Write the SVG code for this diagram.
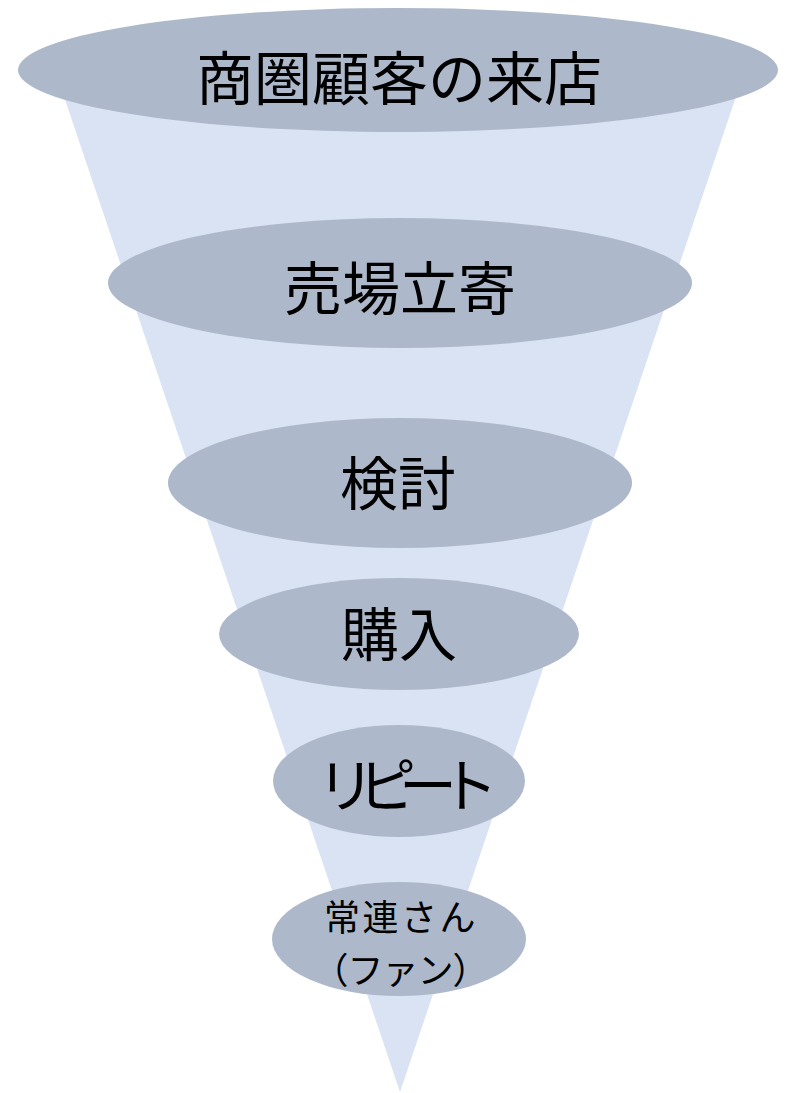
<svg xmlns="http://www.w3.org/2000/svg" width="792" height="1093" viewBox="0 0 792 1093">
<style>
.funnel{fill:#DAE3F3;}
.stage{fill:#ADB9CA;}
.lbl{font-family:"Noto Sans CJK JP","Noto Sans CJK SC",sans-serif;fill:#000;text-anchor:middle;}
.big{font-size:58px;}
.small{font-size:36px;}
</style>
<rect width="792" height="1093" fill="#FFFFFF"/>
<g id="funnel"><polygon class="funnel" points="55,70 745,70 400,1092"/></g>
<g id="stage1"><ellipse class="stage" cx="398" cy="70" rx="380" ry="62"/><text class="lbl big" x="399" y="100">商圏顧客の来店</text></g>
<g id="stage2"><ellipse class="stage" cx="400" cy="283" rx="292" ry="65"/><text class="lbl big" x="400" y="310">売場立寄</text></g>
<g id="stage3"><ellipse class="stage" cx="400" cy="483" rx="232" ry="65"/><text class="lbl big" x="398" y="505">検討</text></g>
<g id="stage4"><ellipse class="stage" cx="399" cy="634" rx="180" ry="56"/><text class="lbl big" x="399" y="656">購入</text></g>
<g id="stage5"><ellipse class="stage" cx="399" cy="781" rx="126" ry="56"/><text class="lbl big" x="399" y="807" letter-spacing="-17">リピート</text></g>
<g id="stage6"><ellipse class="stage" cx="399" cy="939" rx="127" ry="57"/><text class="lbl small"><tspan x="401" y="931" letter-spacing="2.5">常連さん</tspan><tspan x="400" y="984" letter-spacing="-1">（ファン）</tspan></text></g>
<g id="connectors"></g>
</svg>
